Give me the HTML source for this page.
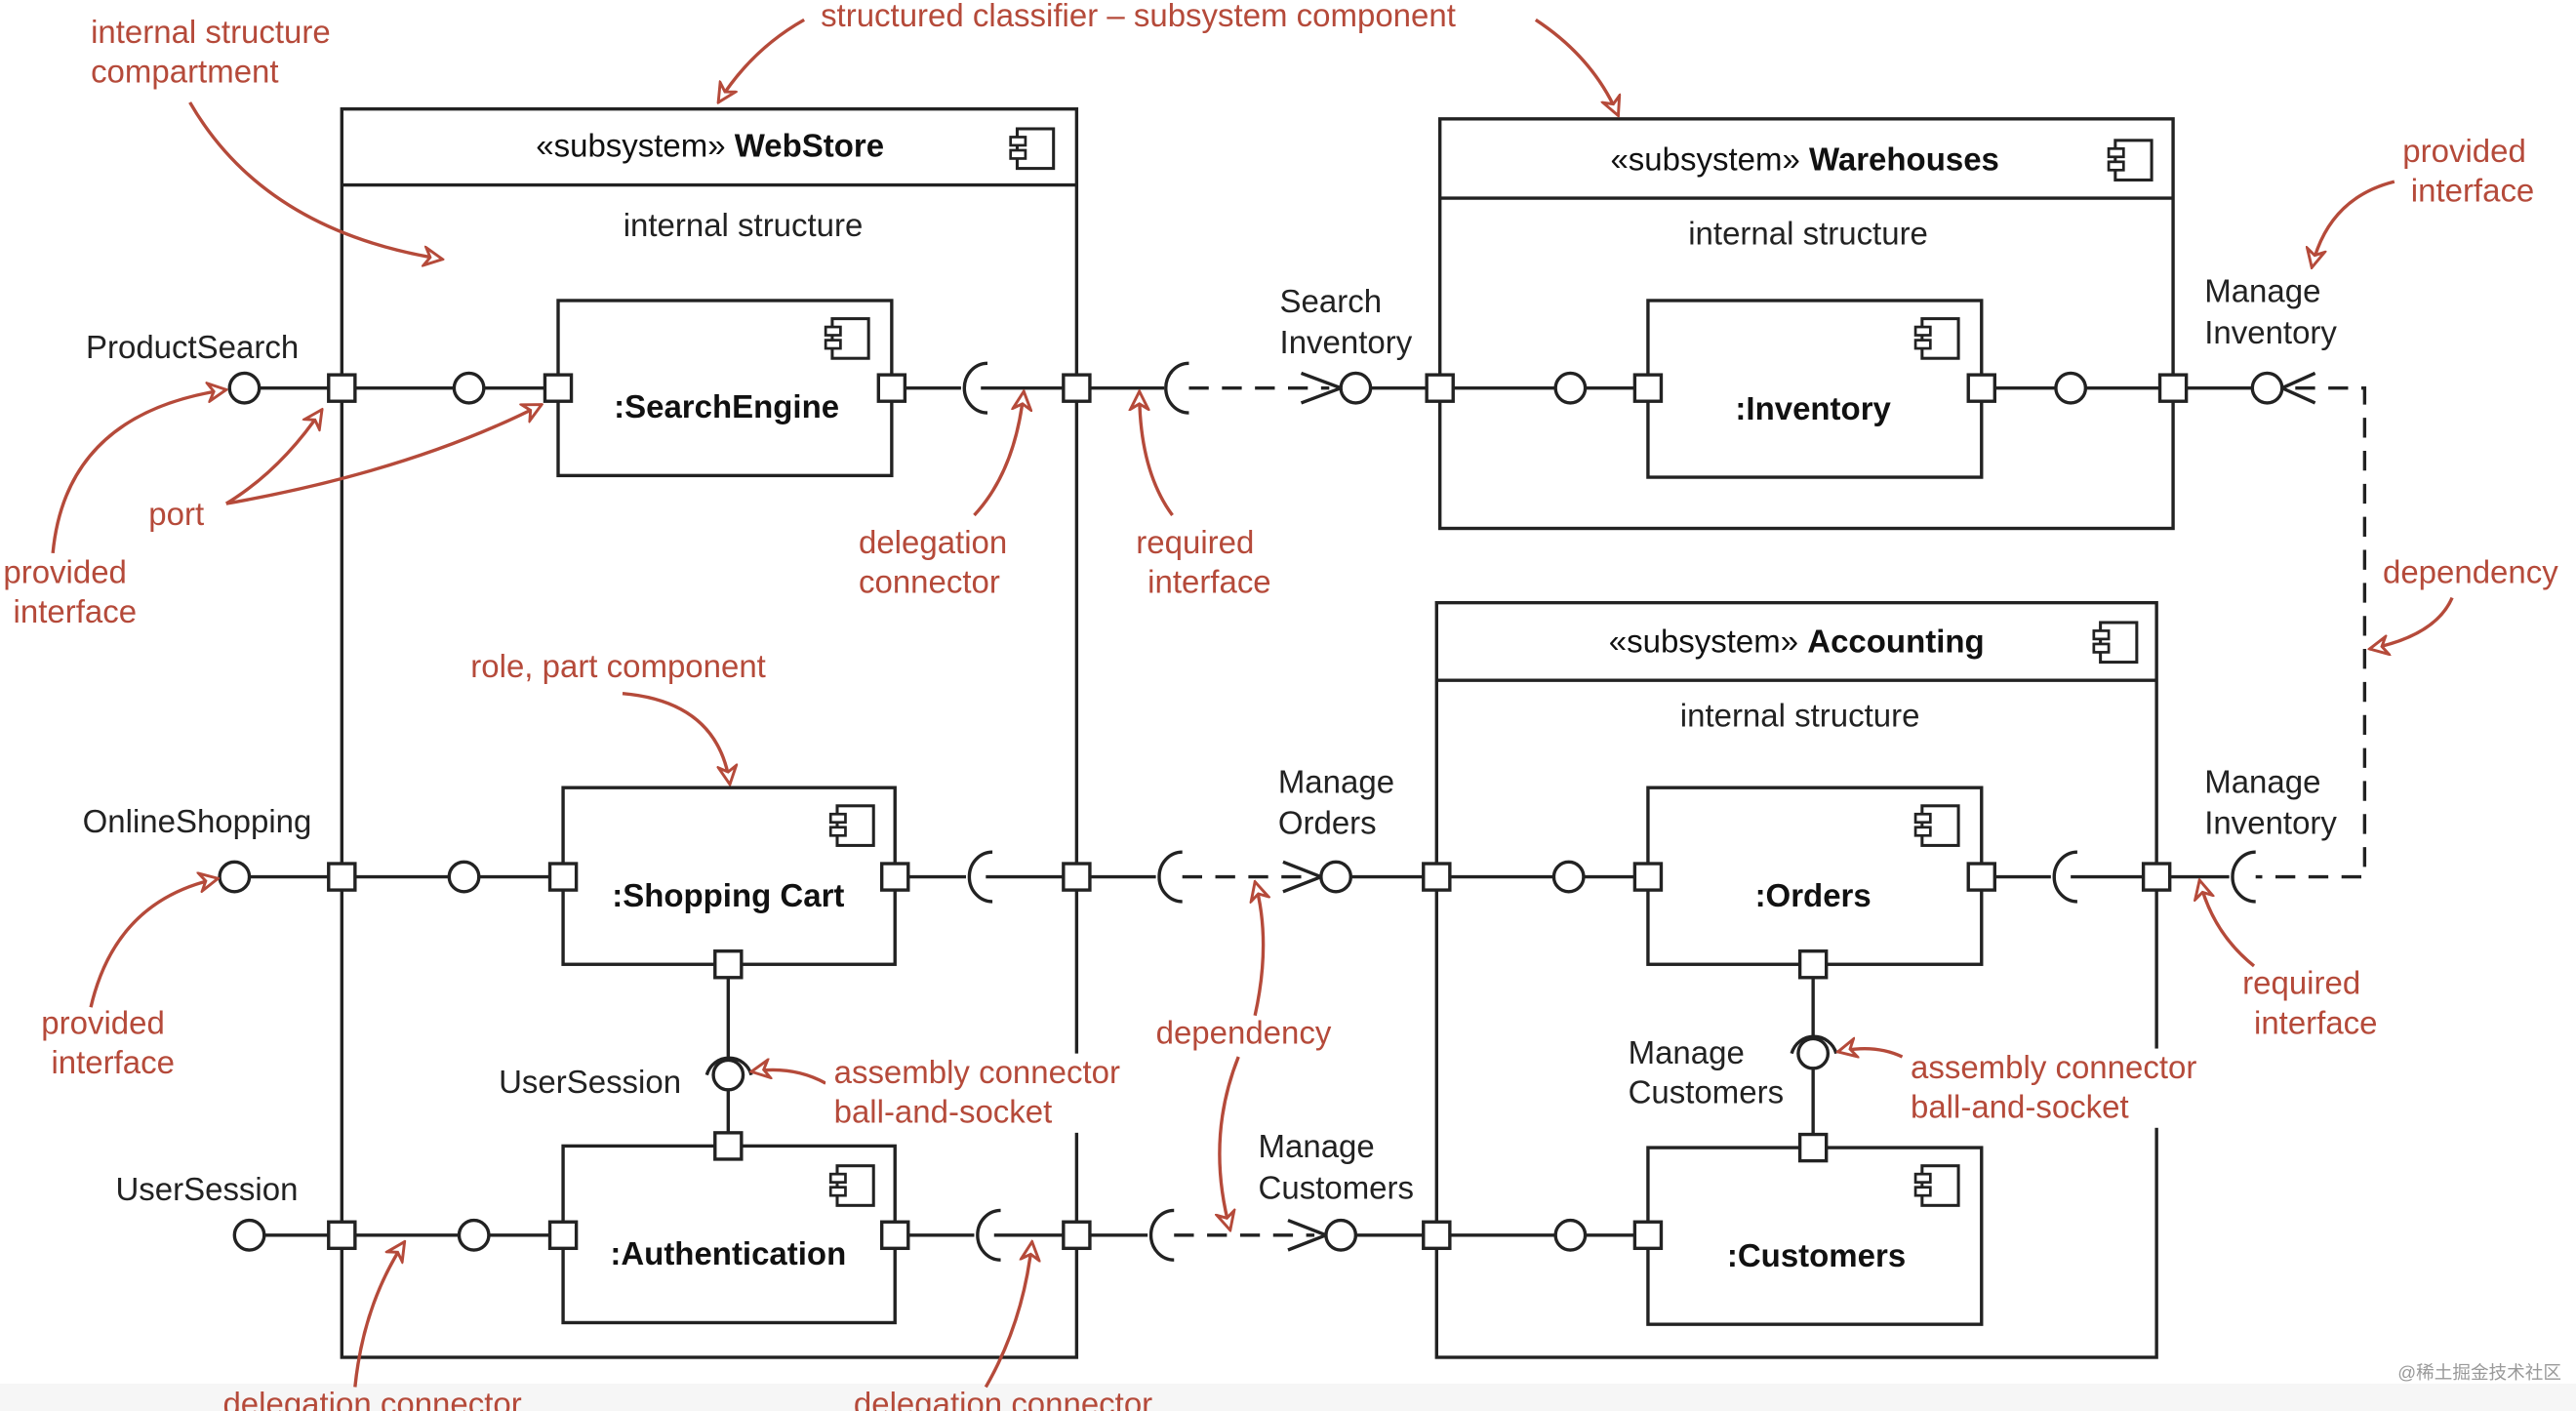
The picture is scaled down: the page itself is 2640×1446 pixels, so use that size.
<!DOCTYPE html>
<html><head><meta charset="utf-8"><style>
html,body{margin:0;padding:0;background:#fff;}
svg{display:block;}
text{font-family:"Liberation Sans",Arial,sans-serif;}
.b{fill:#222;font-size:19.5px;}
.r{fill:#b54a3a;font-size:19.5px;}
.t{fill:#111;font-size:19.5px;}
.bold{font-weight:bold;}
</style></head><body>
<svg width="2640" height="1446" viewBox="0 0 1560 854.5" preserveAspectRatio="none" xmlns="http://www.w3.org/2000/svg">
<defs>
<marker id="ah" viewBox="0 0 12 12" refX="11" refY="6" markerWidth="13" markerHeight="13" markerUnits="userSpaceOnUse" orient="auto">
<path d="M1,1 L11,6 L1,11 L4,6 Z" fill="#fff" stroke="#b54a3a" stroke-width="1.6"/>
</marker>
<g id="ic">
<rect x="4" y="0" width="22" height="24" fill="#fff" stroke="#222" stroke-width="1.8"/>
<rect x="0" y="5" width="9" height="5" fill="#fff" stroke="#222" stroke-width="1.6"/>
<rect x="0" y="13" width="9" height="5" fill="#fff" stroke="#222" stroke-width="1.6"/>
</g>
</defs>
<rect x="0" y="838" width="1560" height="17" fill="#f6f6f6"/>
<g fill="#fff" stroke="#222" stroke-width="2">
<!-- WebStore -->
<rect x="207" y="66" width="445" height="756"/>
<line x1="207" y1="112" x2="652" y2="112"/>
<!-- Warehouses -->
<rect x="872" y="72" width="444" height="248"/>
<line x1="872" y1="120" x2="1316" y2="120"/>
<!-- Accounting -->
<rect x="870" y="365" width="436" height="457"/>
<line x1="870" y1="412" x2="1306" y2="412"/>
<!-- parts -->
<rect x="338" y="182" width="202" height="106"/>
<rect x="341" y="477" width="201" height="107"/>
<rect x="341" y="694" width="201" height="107"/>
<rect x="998" y="182" width="202" height="107"/>
<rect x="998" y="477" width="202" height="107"/>
<rect x="998" y="695" width="202" height="107"/>
</g>
<use href="#ic" x="612" y="78"/>
<use href="#ic" x="1277" y="85"/>
<use href="#ic" x="1268" y="377"/>
<use href="#ic" x="500" y="193"/>
<use href="#ic" x="503" y="488"/>
<use href="#ic" x="503" y="706"/>
<use href="#ic" x="1160" y="193"/>
<use href="#ic" x="1160" y="488"/>
<use href="#ic" x="1160" y="706"/>

<!-- connector lines -->
<g stroke="#222" stroke-width="2" fill="none">
<line x1="157" y1="235" x2="275" y2="235"/><line x1="293" y1="235" x2="338" y2="235"/>
<line x1="540" y1="235" x2="582" y2="235"/><line x1="594" y1="235" x2="705" y2="235"/>
<line x1="830" y1="235" x2="942" y2="235"/><line x1="960" y1="235" x2="998" y2="235"/>
<line x1="1200" y1="235" x2="1245" y2="235"/><line x1="1263" y1="235" x2="1364" y2="235"/>

<line x1="151" y1="531" x2="272" y2="531"/><line x1="290" y1="531" x2="341" y2="531"/>
<line x1="542" y1="531" x2="585" y2="531"/><line x1="597" y1="531" x2="700" y2="531"/>
<line x1="818" y1="531" x2="941" y2="531"/><line x1="959" y1="531" x2="998" y2="531"/>
<line x1="1200" y1="531" x2="1242" y2="531"/><line x1="1254" y1="531" x2="1350" y2="531"/>

<line x1="160" y1="748" x2="278" y2="748"/><line x1="296" y1="748" x2="341" y2="748"/>
<line x1="542" y1="748" x2="590" y2="748"/><line x1="602" y1="748" x2="695" y2="748"/>
<line x1="821" y1="748" x2="942" y2="748"/><line x1="960" y1="748" x2="998" y2="748"/>

<line x1="441" y1="584" x2="441" y2="694"/>
<line x1="1098" y1="584" x2="1098" y2="695"/>
<!-- dashed -->
<g stroke-dasharray="12,8">
<line x1="720" y1="235" x2="805" y2="235"/>
<line x1="716" y1="531" x2="792" y2="531"/>
<line x1="711" y1="748" x2="796" y2="748"/>
<polyline points="1390,235 1432,235 1432,531 1366,531"/>
</g>
<!-- open arrowheads -->
<polyline points="788,226 812,235 788,244"/>
<polyline points="777,522 800,531 777,540"/>
<polyline points="780,739 803,748 780,757"/>
<polyline points="1402,226 1382,235 1402,244"/>
<!-- sockets -->
<path d="M598,220 A14,15 0 0 0 598,250"/>
<path d="M720,220 A14,15 0 0 0 720,250"/>
<path d="M601,516 A14,15 0 0 0 601,546"/>
<path d="M716,516 A14,15 0 0 0 716,546"/>
<path d="M606,733 A14,15 0 0 0 606,763"/>
<path d="M711,733 A14,15 0 0 0 711,763"/>
<path d="M1258,516 A14,15 0 0 0 1258,546"/>
<path d="M1366,516 A14,15 0 0 0 1366,546"/>
<path d="M428,651 A14,14 0 0 1 455,651"/>
<path d="M1085,638 A14,14 0 0 1 1112,638"/>
</g>
<!-- balls -->
<g fill="#fff" stroke="#222" stroke-width="2">
<circle cx="148" cy="235" r="9"/><circle cx="284" cy="235" r="9"/><circle cx="821" cy="235" r="9"/>
<circle cx="951" cy="235" r="9"/><circle cx="1254" cy="235" r="9"/><circle cx="1373" cy="235" r="9"/>
<circle cx="142" cy="531" r="9"/><circle cx="281" cy="531" r="9"/><circle cx="809" cy="531" r="9"/><circle cx="950" cy="531" r="9"/>
<circle cx="151" cy="748" r="9"/><circle cx="287" cy="748" r="9"/><circle cx="812" cy="748" r="9"/><circle cx="951" cy="748" r="9"/>
<circle cx="441" cy="651" r="9"/><circle cx="1098" cy="638" r="9"/>
<!-- ports -->
<rect x="199" y="227" width="16" height="16"/><rect x="330" y="227" width="16" height="16"/>
<rect x="532" y="227" width="16" height="16"/><rect x="644" y="227" width="16" height="16"/>
<rect x="864" y="227" width="16" height="16"/><rect x="990" y="227" width="16" height="16"/>
<rect x="1192" y="227" width="16" height="16"/><rect x="1308" y="227" width="16" height="16"/>
<rect x="199" y="523" width="16" height="16"/><rect x="333" y="523" width="16" height="16"/>
<rect x="534" y="523" width="16" height="16"/><rect x="644" y="523" width="16" height="16"/>
<rect x="862" y="523" width="16" height="16"/><rect x="990" y="523" width="16" height="16"/>
<rect x="1192" y="523" width="16" height="16"/><rect x="1298" y="523" width="16" height="16"/>
<rect x="199" y="740" width="16" height="16"/><rect x="333" y="740" width="16" height="16"/>
<rect x="534" y="740" width="16" height="16"/><rect x="644" y="740" width="16" height="16"/>
<rect x="862" y="740" width="16" height="16"/><rect x="990" y="740" width="16" height="16"/>
<rect x="433" y="576" width="16" height="16"/><rect x="433" y="686" width="16" height="16"/>
<rect x="1090" y="576" width="16" height="16"/><rect x="1090" y="687" width="16" height="16"/>
</g>

<!-- titles -->
<text x="430" y="95" text-anchor="middle" class="t">«subsystem» <tspan class="bold">WebStore</tspan></text>
<text x="1093" y="103" text-anchor="middle" class="t">«subsystem» <tspan class="bold">Warehouses</tspan></text>
<text x="1088" y="395" text-anchor="middle" class="t">«subsystem» <tspan class="bold">Accounting</tspan></text>
<text x="450" y="143" text-anchor="middle" class="b">internal structure</text>
<text x="1095" y="148" text-anchor="middle" class="b">internal structure</text>
<text x="1090" y="440" text-anchor="middle" class="b">internal structure</text>
<text x="440" y="253" text-anchor="middle" class="t bold">:SearchEngine</text>
<text x="441" y="549" text-anchor="middle" class="t bold">:Shopping Cart</text>
<text x="441" y="766" text-anchor="middle" class="t bold">:Authentication</text>
<text x="1098" y="254" text-anchor="middle" class="t bold">:Inventory</text>
<text x="1098" y="549" text-anchor="middle" class="t bold">:Orders</text>
<text x="1100" y="767" text-anchor="middle" class="t bold">:Customers</text>

<!-- black labels -->
<g class="b">
<text x="52" y="217">ProductSearch</text>
<text x="775" y="189">Search</text><text x="775" y="214">Inventory</text>
<text x="1335" y="183">Manage</text><text x="1335" y="208">Inventory</text>
<text x="50" y="504">OnlineShopping</text>
<text x="774" y="480">Manage</text><text x="774" y="505">Orders</text>
<text x="1335" y="480">Manage</text><text x="1335" y="505">Inventory</text>
<text x="302" y="662">UserSession</text>
<text x="70" y="727">UserSession</text>
<text x="762" y="701">Manage</text><text x="762" y="726">Customers</text>
<text x="986" y="644">Manage</text><text x="986" y="668">Customers</text>
</g>

<!-- red annotation arrows -->
<g stroke="#b54a3a" stroke-width="2" fill="none" marker-end="url(#ah)">
<path d="M115,62 Q160,140 268,157"/>
<path d="M487,12 Q455,30 435,62"/>
<path d="M930,12 Q965,35 980,70"/>
<path d="M1450,110 Q1410,120 1400,162"/>
<path d="M137,305 Q170,285 195,248"/>
<path d="M137,305 Q250,285 328,245"/>
<path d="M32,335 Q40,250 137,236"/>
<path d="M590,312 Q615,285 620,237"/>
<path d="M710,312 Q690,285 690,237"/>
<path d="M1485,362 Q1475,385 1435,393"/>
<path d="M377,420 Q435,425 442,475"/>
<path d="M55,610 Q70,545 132,532"/>
<path d="M500,656 Q480,645 455,649"/>
<path d="M760,615 Q770,570 760,534"/>
<path d="M750,640 Q730,690 745,745"/>
<path d="M1152,640 Q1135,632 1113,637"/>
<path d="M1365,585 Q1340,565 1332,533"/>
<path d="M215,840 Q220,790 245,752"/>
<path d="M597,840 Q620,800 625,752"/>
</g>
<!-- white backgrounds behind some labels -->
<rect x="500" y="638" width="192" height="48" fill="#fff"/>
<rect x="1155" y="635" width="192" height="48" fill="#fff"/>
<g class="r">
<text x="55" y="26">internal structure</text><text x="55" y="50">compartment</text>
<text x="497" y="16">structured classifier – subsystem component</text>
<text x="1455" y="98">provided</text><text x="1460" y="122">interface</text>
<text x="90" y="318">port</text>
<text x="2" y="353">provided</text><text x="8" y="377">interface</text>
<text x="520" y="335">delegation</text><text x="520" y="359">connector</text>
<text x="688" y="335">required</text><text x="695" y="359">interface</text>
<text x="1443" y="353">dependency</text>
<text x="285" y="410">role, part component</text>
<text x="25" y="626">provided</text><text x="31" y="650">interface</text>
<text x="505" y="656">assembly connector</text><text x="505" y="680">ball-and-socket</text>
<text x="700" y="632">dependency</text>
<text x="1157" y="653">assembly connector</text><text x="1157" y="677">ball-and-socket</text>
<text x="1358" y="602">required</text><text x="1365" y="626">interface</text>
<text x="135" y="857">delegation connector</text>
<text x="517" y="857">delegation connector</text>
</g>
<text x="1452" y="835" style="font-size:11px;fill:#999">@稀土掘金技术社区</text>
</svg>
</body></html>
